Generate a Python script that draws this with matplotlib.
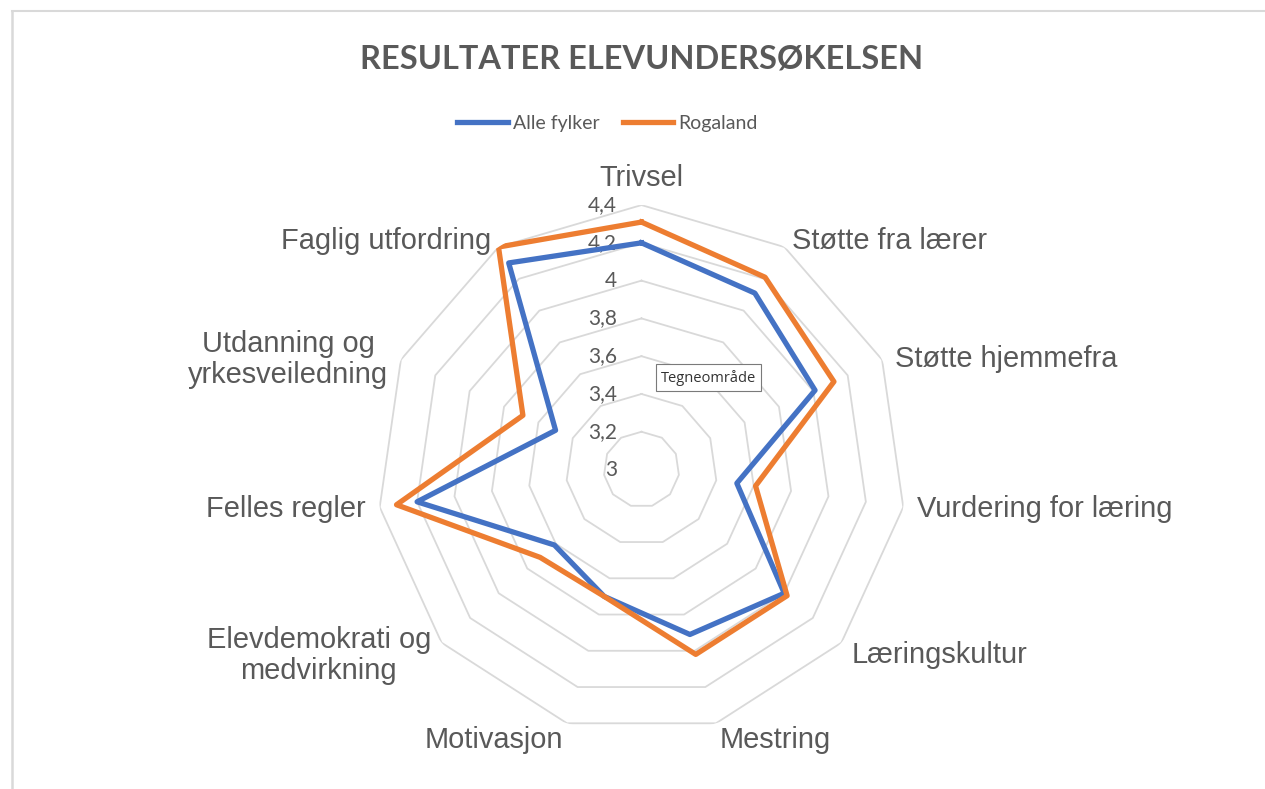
import numpy as np
import matplotlib.pyplot as plt
from matplotlib.lines import Line2D

# data
categories = ['Trivsel', 'Støtte fra lærer', 'Støtte hjemmefra', 'Vurdering for læring',
              'Læringskultur', 'Mestring', 'Motivasjon', 'Elevdemokrati og\nmedvirkning',
              'Felles regler', 'Utdanning og\nyrkesveiledning', 'Faglig utfordring']
alle_fylker = [4.20, 4.11, 4.01, 3.51, 4.00, 3.91, 3.70, 3.61, 4.20, 3.50, 4.30]
rogaland = [4.31, 4.21, 4.12, 3.61, 4.02, 4.02, 3.70, 3.71, 4.31, 3.69, 4.40]
ring_values = [3.0, 3.2, 3.4, 3.6, 3.8, 4.0, 4.2, 4.4]
ring_labels = ['3', '3,2', '3,4', '3,6', '3,8', '4', '4,2', '4,4']

grey = '#595959'
n = len(categories)
theta = np.arange(n) * 2 * np.pi / n
theta_closed = np.append(theta, theta[0])

fig = plt.figure(figsize=(12.65, 7.89), dpi=100)
ax = fig.add_axes([0.2980, 0.0697, 0.4182, 0.6704], projection='polar')
ax.set_theta_zero_location('N')
ax.set_theta_direction(-1)
ax.set_ylim(3, 4.4)
ax.grid(False)
ax.spines['polar'].set_visible(False)
ax.set_xticks([])
ax.set_yticks([])
ax.patch.set_alpha(0)

# polygon grid
for rv in ring_values[1:]:
    ax.plot(theta_closed, [rv] * (n + 1), color='#d9d9d9', lw=1.3, zorder=1)

for rv, lab in zip(ring_values, ring_labels):
    ax.annotate(lab, xy=(0, rv), xytext=(-17.5, 0), textcoords='offset points',
                ha='right', va='center', fontsize=15, color=grey, family='Lato')

ax.plot(theta_closed, alle_fylker + alle_fylker[:1], color='#4472C4', lw=3.8, zorder=3,
        label='Alle fylker')
ax.plot(theta_closed, rogaland + rogaland[:1], color='#ED7D31', lw=3.8, zorder=4,
        label='Rogaland')

# category labels
for t, lab in zip(theta, categories):
    s, c = np.sin(t), np.cos(t)
    if c > 0.2:
        dy = -4
    elif c < -0.2:
        dy = -2.5
    else:
        dy = 0
    if abs(s) < 0.01:
        ax.annotate(lab, xy=(t, 4.46), xytext=(0, 1), textcoords='offset points',
                    ha='center', va='bottom', fontsize=20.9, color=grey,
                    family='Liberation Sans', annotation_clip=False)
    else:
        ax.annotate(lab, xy=(t, 4.475), xytext=(0, dy), textcoords='offset points',
                    ha='left' if s > 0 else 'right', va='center',
                    multialignment='center', fontsize=20.9, color=grey,
                    family='Liberation Sans', annotation_clip=False, linespacing=1.15)

fig.text(0.5071, 0.925, 'RESULTATER ELEVUNDERSØKELSEN', ha='center', va='center',
         fontsize=23.4, fontweight='bold', color=grey, family='Lato')

fig.legend(loc='center', bbox_to_anchor=(0.4802, 0.844), ncol=2, frameon=False,
           prop={'family': 'Lato', 'size': 14}, labelcolor=grey, handlelength=2.6,
           handletextpad=0.25, columnspacing=1.2)

# tooltip
fig.text(0.5225, 0.5215, 'Tegneområde', ha='left', va='center', fontsize=10.5, color='#333333',
         family='Open Sans',
         bbox=dict(boxstyle='square,pad=0.35', facecolor='white', edgecolor='#7a7a7a', lw=0.8))

# chart frame (top and left only visible)
fig.add_artist(Line2D([0.0093, 1.0], [0.986, 0.986], color='#d9d9d9', lw=1.5))
fig.add_artist(Line2D([0.0093, 0.0093], [0.0, 0.986], color='#d9d9d9', lw=1.8))

fig.savefig('out.png', dpi=100)
